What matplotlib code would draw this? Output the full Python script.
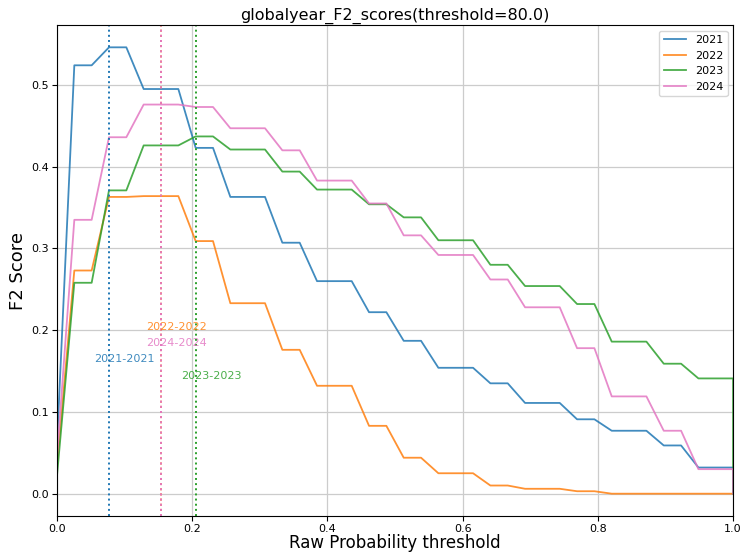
import numpy as np
import matplotlib
matplotlib.use("Agg")
import matplotlib.pyplot as plt

# thresholds 0 .. 1 in 39 steps, plus the final drop at 1.0
thresholds = list(np.linspace(0, 1, 40)) + [1.0]

years = ["2021", "2022", "2023", "2024"]

f2_2021 = [0.060, 0.524, 0.524, 0.546, 0.546, 0.495, 0.495, 0.495, 0.423, 0.423,
           0.363, 0.363, 0.363, 0.307, 0.307, 0.260, 0.260, 0.260, 0.222, 0.222,
           0.187, 0.187, 0.154, 0.154, 0.154, 0.135, 0.135, 0.111, 0.111, 0.111,
           0.091, 0.091, 0.077, 0.077, 0.077, 0.059, 0.059, 0.032, 0.032, 0.032, 0.0]
f2_2022 = [0.035, 0.273, 0.273, 0.363, 0.363, 0.364, 0.364, 0.364, 0.309, 0.309,
           0.233, 0.233, 0.233, 0.176, 0.176, 0.132, 0.132, 0.132, 0.083, 0.083,
           0.044, 0.044, 0.025, 0.025, 0.025, 0.010, 0.010, 0.006, 0.006, 0.006,
           0.003, 0.003, 0.0, 0.0, 0.0, 0.0, 0.0, 0.0, 0.0, 0.0, 0.0]
f2_2023 = [0.022, 0.258, 0.258, 0.371, 0.371, 0.426, 0.426, 0.426, 0.437, 0.437,
           0.421, 0.421, 0.421, 0.394, 0.394, 0.372, 0.372, 0.372, 0.354, 0.354,
           0.338, 0.338, 0.310, 0.310, 0.310, 0.280, 0.280, 0.254, 0.254, 0.254,
           0.232, 0.232, 0.186, 0.186, 0.186, 0.159, 0.159, 0.141, 0.141, 0.141, 0.0]
f2_2024 = [0.045, 0.335, 0.335, 0.436, 0.436, 0.476, 0.476, 0.476, 0.473, 0.473,
           0.447, 0.447, 0.447, 0.420, 0.420, 0.383, 0.383, 0.383, 0.355, 0.355,
           0.316, 0.316, 0.292, 0.292, 0.292, 0.262, 0.262, 0.228, 0.228, 0.228,
           0.178, 0.178, 0.119, 0.119, 0.119, 0.077, 0.077, 0.030, 0.030, 0.030, 0.0]

# best threshold index per year (drawn as dotted line + label)
best_idx = [3, 6, 8, 6]
label_y = [0.165, 0.204, 0.144, 0.184]

colors = ["#1f77b4", "#ff7f0e", "#2ca02c", "#e377c2"]

fig = plt.figure(figsize=(7.42, 5.52), dpi=100)
ax = fig.add_axes([0.0768, 0.0652, 0.9112, 0.8895])

series = [f2_2021, f2_2022, f2_2023, f2_2024]
for yr, vals, c in zip(years, series, colors):
	ax.plot(thresholds, vals, color=c, linewidth=1.3, alpha=0.85, label=yr)

for yr, idx, ly, c in zip(years, best_idx, label_y, colors):
	bx = thresholds[idx]
	ax.axvline(bx, color=c, linestyle=":", linewidth=1.4)
	ax.text(bx - 0.022, ly, yr + "-" + yr, color=c, alpha=0.85, fontsize=8, va="center")

ax.set_xlim(0, 1)
ax.grid(True, color="#cccccc", linewidth=0.9)
ax.set_axisbelow(True)
ax.tick_params(labelsize=8, pad=2)
ax.set_title("globalyear_F2_scores(threshold=80.0)", fontsize=11.5, pad=4)
ax.set_xlabel("Raw Probability threshold", fontsize=12, labelpad=0)
ax.set_ylabel("F2 Score", fontsize=13, labelpad=3)
ax.legend(fontsize=8, loc="upper right")

plt.savefig("out.png")
